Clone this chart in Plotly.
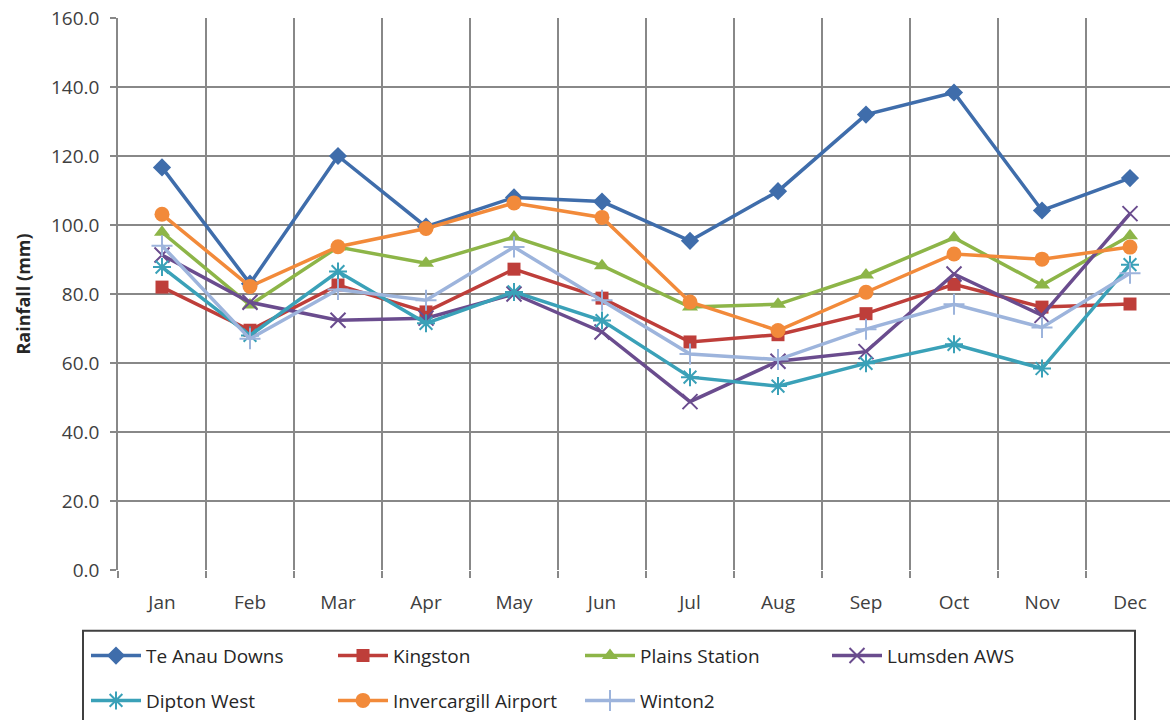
import plotly.graph_objects as go

# Monthly mean rainfall (mm) at Southland stations
months = ["Jan", "Feb", "Mar", "Apr", "May", "Jun",
          "Jul", "Aug", "Sep", "Oct", "Nov", "Dec"]

te_anau_downs = [116.7, 83.0, 120.0, 99.5, 108.0, 106.8, 95.4, 109.8, 132.0, 138.4, 104.2, 113.6]
kingston = [82.0, 69.5, 82.6, 74.8, 87.2, 78.8, 66.1, 68.2, 74.3, 82.8, 76.2, 77.1]
plains_station = [97.9, 76.8, 93.6, 88.9, 96.5, 88.2, 76.2, 77.0, 85.5, 96.3, 82.6, 96.9]
lumsden_aws = [91.3, 77.6, 72.4, 73.0, 80.0, 69.0, 48.8, 60.5, 63.3, 85.8, 73.8, 103.3]
dipton_west = [87.8, 68.0, 86.5, 71.5, 80.6, 72.3, 55.9, 53.3, 59.9, 65.4, 58.4, 88.5]
invercargill_airport = [103.1, 82.2, 93.7, 99.0, 106.4, 102.2, 77.7, 69.4, 80.5, 91.6, 90.1, 93.6]
winton2 = [94.0, 67.0, 81.3, 78.2, 93.6, 78.2, 62.6, 61.0, 69.8, 77.0, 70.3, 86.0]

y_ticks = [0, 20, 40, 60, 80, 100, 120, 140, 160]
y_tick_text = ["0.0", "20.0", "40.0", "60.0", "80.0", "100.0", "120.0", "140.0", "160.0"]

FONT = "Open Sans"
GRID = "#888888"

series = [
    ("Te Anau Downs", te_anau_downs, "#3F6DAB", "diamond", 14, "legend"),
    ("Kingston", kingston, "#BE3E3A", "square", 13, "legend"),
    ("Plains Station", plains_station, "#8DB548", "triangle-up", 14, "legend"),
    ("Lumsden AWS", lumsden_aws, "#6A4C8E", "x-thin-open", 15, "legend"),
    ("Dipton West", dipton_west, "#3AA1B8", "asterisk-open", 15, "legend2"),
    ("Invercargill Airport", invercargill_airport, "#F28A3A", "circle", 15, "legend2"),
    ("Winton2", winton2, "#9DB4DC", "cross-thin-open", 15, "legend2"),
]

fig = go.Figure()
for name, vals, color, symbol, size, leg in series:
    open_sym = symbol.endswith("-open")
    fig.add_trace(go.Scatter(
        x=months, y=vals, name=name, mode="lines+markers",
        line=dict(color=color, width=3.5),
        marker=dict(symbol=symbol, size=size, color=color,
                    line=dict(color=color, width=2 if open_sym else 0)),
        legend=leg,
    ))

# plot area spans x 118..1170 px and y 18..572 px
W, L, R, T, B = 1170, 118, 0, 18, 148
pw = W - L - R
ph = 720 - T - B


def px_x(v):
    return (v - L) / pw


def px_y(v):
    return (720 - B - v) / ph


legend_common = dict(
    orientation="h", xanchor="left", yanchor="middle",
    bgcolor="rgba(0,0,0,0)", borderwidth=0,
    entrywidth=182, entrywidthmode="pixels", itemwidth=50,
    font=dict(family=FONT, size=19, color="#262626"),
    itemclick=False,
)

fig.update_layout(
    width=W, height=720,
    margin=dict(l=L, r=R, t=T, b=B),
    paper_bgcolor="white", plot_bgcolor="white",
    font=dict(family=FONT, size=19, color="#404040"),
    showlegend=True,
    legend=dict(x=px_x(86), y=px_y(658), **legend_common),
    legend2=dict(x=px_x(86), y=px_y(703), **legend_common),
    xaxis=dict(
        type="category", categoryorder="array", categoryarray=months,
        range=[-0.5, -0.5 + pw / 88.0],
        tickson="boundaries", showgrid=True, gridcolor=GRID, gridwidth=1.5,
        ticks="outside", ticklen=7, tickcolor=GRID, tickwidth=1.5,
        ticklabelstandoff=19,
        showline=False, zeroline=False,
        tickfont=dict(family=FONT, size=19, color="#404040"),
    ),
    yaxis=dict(
        range=[0, 160], tickvals=y_ticks, ticktext=y_tick_text,
        showgrid=True, gridcolor=GRID, gridwidth=1.5,
        ticks="outside", ticklen=6, tickcolor=GRID, tickwidth=1.5,
        ticklabelstandoff=7,
        showline=True, linecolor=GRID, linewidth=1.5,
        zeroline=False,
        tickfont=dict(family=FONT, size=19, color="#404040"),
        title=dict(text="<b>Rainfall (mm)</b>", standoff=16,
                   font=dict(family=FONT, size=18, color="#262626")),
    ),
    shapes=[dict(
        type="rect", xref="paper", yref="paper",
        x0=px_x(83), x1=px_x(1135), y0=px_y(633), y1=px_y(732),
        line=dict(color="#404040", width=2), fillcolor="rgba(0,0,0,0)",
        layer="above",
    )],
)

fig.write_html("out.html")
